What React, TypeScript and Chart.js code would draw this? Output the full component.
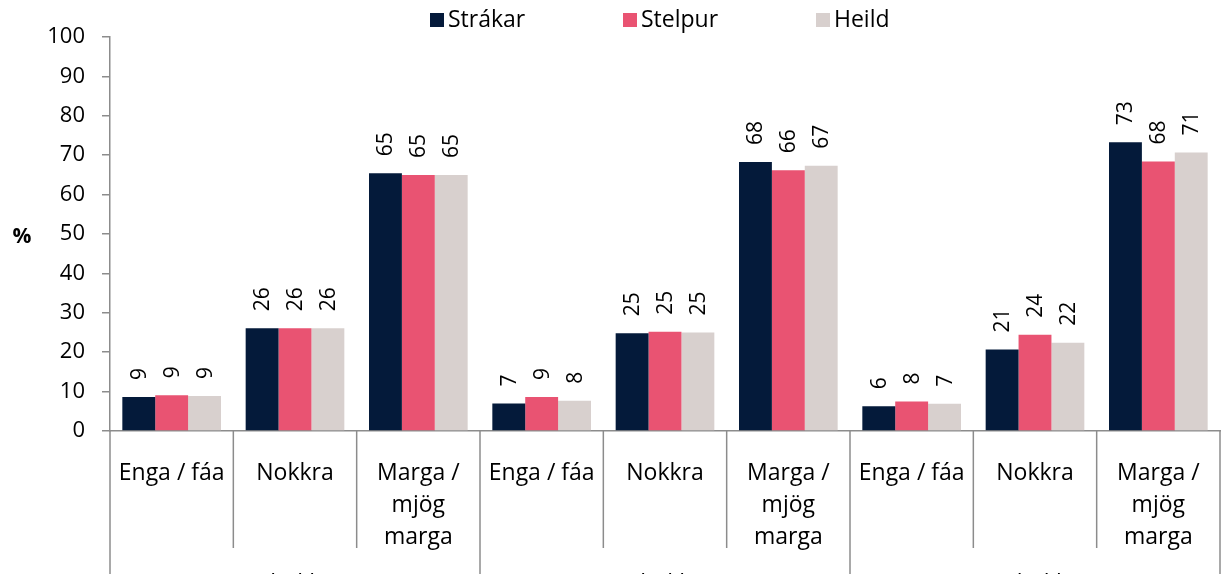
import React, { useEffect, useRef } from 'react';
import { Chart, registerables } from 'chart.js';

Chart.register(...registerables);

const CATEGORIES: string[][] = [
  ['Enga / fáa'], ['Nokkra'], ['Marga /', 'mjög', 'marga'],
  ['Enga / fáa'], ['Nokkra'], ['Marga /', 'mjög', 'marga'],
  ['Enga / fáa'], ['Nokkra'], ['Marga /', 'mjög', 'marga'],
];
const GROUPS = ['8. bekkur', '9. bekkur', '10. bekkur'];
const SERIES_LABELS = ['Strákar', 'Stelpur', 'Heild'];
const STRAKAR = [8.6, 26.1, 65.4, 7.0, 24.8, 68.3, 6.3, 20.7, 73.3];
const STELPUR = [9.1, 26.1, 65.0, 8.6, 25.2, 66.2, 7.5, 24.4, 68.4];
const HEILD = [8.9, 26.1, 65.0, 7.7, 25.0, 67.3, 6.9, 22.4, 70.7];
const Y_MIN = 0;
const Y_MAX = 100;
const Y_STEP = 10;
const Y_TITLE = '%';

const COLORS = ['#041a3a', '#e95372', '#d8d0ce'];
const FONT = '"Open Sans", "Noto Sans", sans-serif';
const AXIS_COLOR = '#8c8c8c';
const CANVAS_H = 620;

const decorPlugin = {
  id: 'decor',
  afterDraw(chart: any) {
    const ctx: CanvasRenderingContext2D = chart.ctx;
    const xs = chart.scales.x;
    const area = chart.chartArea;
    const n = CATEGORIES.length;
    ctx.save();
    // category / group separators
    ctx.strokeStyle = AXIS_COLOR;
    ctx.lineWidth = 1.5;
    const bounds: number[] = [];
    for (let i = 0; i <= n; i++) {
      const px = i === 0 ? area.left : i === n ? area.right : (xs.getPixelForValue(i - 1) + xs.getPixelForValue(i)) / 2;
      bounds.push(px);
      const isGroup = i % 3 === 0;
      ctx.beginPath();
      ctx.moveTo(px, area.bottom);
      ctx.lineTo(px, isGroup ? chart.height : area.bottom + 117);
      ctx.stroke();
    }
    // group labels
    ctx.fillStyle = '#000';
    ctx.font = `23px ${FONT}`;
    ctx.textAlign = 'center';
    ctx.textBaseline = 'middle';
    GROUPS.forEach((g, gi) => {
      const cx = (bounds[gi * 3] + bounds[gi * 3 + 3]) / 2;
      ctx.fillText(g, cx, area.bottom + 153);
    });
    // data labels
    ctx.font = `21px ${FONT}`;
    chart.data.datasets.forEach((ds: any, di: number) => {
      const meta = chart.getDatasetMeta(di);
      meta.data.forEach((bar: any, i: number) => {
        ctx.save();
        ctx.translate(bar.x + 1, bar.y - 17);
        ctx.rotate(-Math.PI / 2);
        ctx.textAlign = 'left';
        ctx.textBaseline = 'middle';
        ctx.fillText(String(Math.round(ds.data[i])), 0, 0);
        ctx.restore();
      });
    });
    // y title
    ctx.font = `bold 21px ${FONT}`;
    ctx.textAlign = 'center';
    ctx.fillText(Y_TITLE, 22, (area.top + area.bottom) / 2 + 3);
    // legend
    const colW = 193;
    const startX = 430;
    ctx.font = `23px ${FONT}`;
    ctx.textAlign = 'left';
    chart.data.datasets.forEach((ds: any, di: number) => {
      const x0 = startX + di * colW;
      ctx.fillStyle = ds.backgroundColor;
      ctx.fillRect(x0, 13, 14, 14);
      ctx.fillStyle = '#000';
      ctx.fillText(ds.label, x0 + 18, 20);
    });
    ctx.restore();
  },
};

export default function App() {
  const ref = useRef<HTMLCanvasElement>(null);
  useEffect(() => {
    document.body.style.margin = '0';
    if (!ref.current) return;
    const series = [STRAKAR, STELPUR, HEILD];
    const chart = new Chart(ref.current, {
      type: 'bar',
      data: {
        labels: CATEGORIES,
        datasets: series.map((d, i) => ({
          label: SERIES_LABELS[i],
          data: d,
          backgroundColor: COLORS[i],
          borderWidth: 0,
          categoryPercentage: 0.8,
          barPercentage: 1.0,
        })),
      },
      options: {
        animation: false,
        responsive: true,
        maintainAspectRatio: false,
        layout: { padding: { top: 37, right: 3, left: 0, bottom: 0 } },
        plugins: { legend: { display: false }, tooltip: { enabled: false } },
        scales: {
          x: {
            ticks: {
              color: '#000',
              font: { size: 23, family: FONT, lineHeight: 32 / 23 },
              padding: 18,
              maxRotation: 0,
              autoSkip: false,
            },
            grid: { display: false },
            border: { display: true, color: AXIS_COLOR, width: 1.5 },
            afterFit: (s: any) => { s.height = CANVAS_H - 431; },
          },
          y: {
            min: Y_MIN,
            max: Y_MAX,
            ticks: { stepSize: Y_STEP, color: '#000', font: { size: 22, family: FONT }, padding: 17 },
            grid: { drawOnChartArea: false, drawTicks: true, tickLength: 8, color: AXIS_COLOR, lineWidth: 1.5 },
            border: { display: true, color: AXIS_COLOR, width: 1.5 },
            afterFit: (s: any) => { s.width = 110; },
          },
        },
      },
      plugins: [decorPlugin],
    });
    return () => chart.destroy();
  }, []);
  return (
    <div style={{ width: 1223, height: 574, overflow: 'hidden' }}>
      <div style={{ width: 1223, height: CANVAS_H, position: 'relative' }}>
        <canvas ref={ref} />
      </div>
    </div>
  );
}
